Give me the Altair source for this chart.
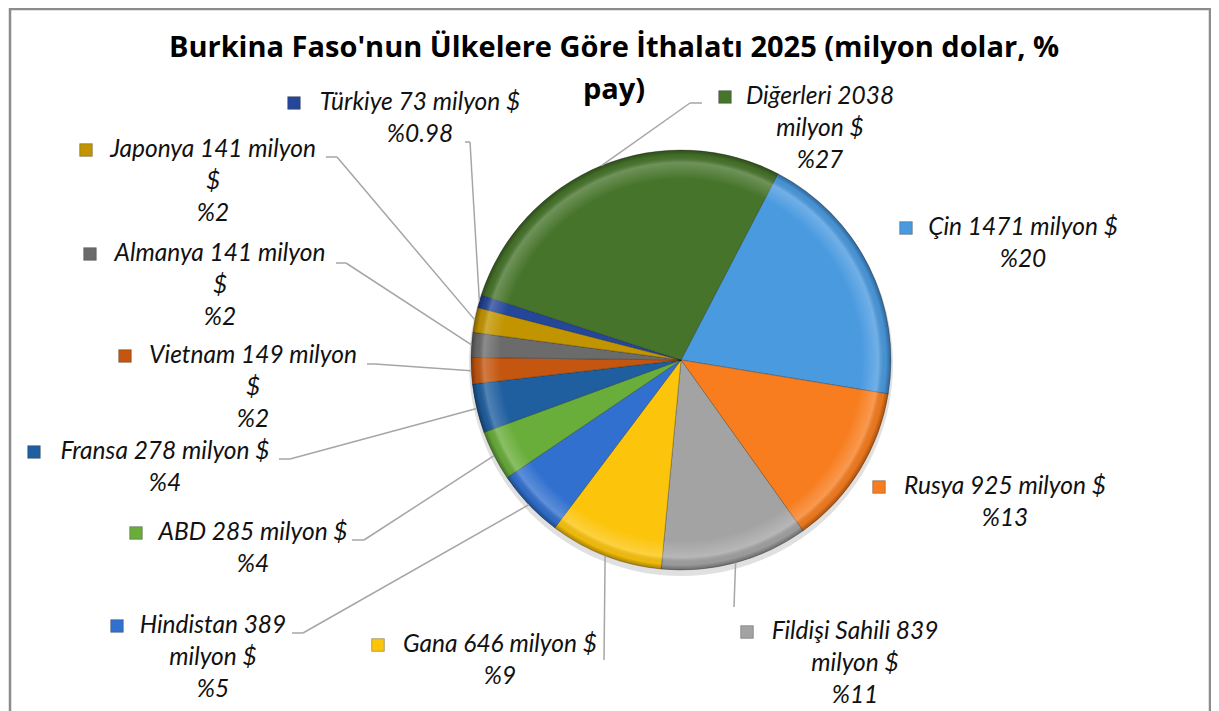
import math
import altair as alt
import pandas as pd

# ---------------- data ----------------
countries = ["Çin", "Rusya", "Fildişi Sahili", "Gana", "Hindistan", "ABD",
             "Fransa", "Vietnam", "Almanya", "Japonya", "Türkiye", "Diğerleri"]
values = [1471, 925, 839, 646, 389, 285, 278, 149, 141, 141, 73, 2038]
label_lines = [
    ["Çin 1471 milyon $", "%20"],
    ["Rusya 925 milyon $", "%13"],
    ["Fildişi Sahili 839", "milyon $", "%11"],
    ["Gana 646 milyon $", "%9"],
    ["Hindistan 389", "milyon $", "%5"],
    ["ABD 285 milyon $", "%4"],
    ["Fransa 278 milyon $", "%4"],
    ["Vietnam 149 milyon", "$", "%2"],
    ["Almanya 141 milyon", "$", "%2"],
    ["Japonya 141 milyon", "$", "%2"],
    ["Türkiye 73 milyon $", "%0.98"],
    ["Diğerleri 2038", "milyon $", "%27"],
]
title_lines = ["Burkina Faso'nun Ülkelere Göre İthalatı 2025 (milyon dolar, %", "pay)"]

# ---------------- styling / layout ----------------
colors = ["#4a9ae0", "#f77d1e", "#a3a3a3", "#fcc40a", "#3170cf", "#69ad3a",
          "#1f5f9f", "#c4560f", "#6b6b6b", "#c29400", "#24479a", "#46742a"]
M = 8                      # page margin
CX, CY, R = 681 - M, 360 - M, 210
A0 = math.radians(27.5)    # angle of first slice
FONT = "Lato"
FS = 24.5
LH = 32
# label layout: text centre x, first line y, legend-key x, leader (x0, x1, y)
layout = {
    "Çin": (1023, 228, 906, None),
    "Rusya": (1005, 487, 879, None),
    "Fildişi Sahili": (855, 632, 747, (734, 734, 607)),
    "Gana": (500, 645, 378, (604, 604, 660)),
    "Hindistan": (213, 626, 117, (292, 303, 633)),
    "ABD": (253, 533, 136, (352, 364, 540)),
    "Fransa": (165, 452, 34, (279, 290, 459)),
    "Vietnam": (253, 356, 125, (367, 375, 364)),
    "Almanya": (220, 254, 90, (336, 346, 263)),
    "Japonya": (213, 150, 86, (326, 337, 157)),
    "Türkiye": (420, 103, 294, (465, 470, 142)),
    "Diğerleri": (820, 97, 725, (702, 690, 103)),
}

pie_df = pd.DataFrame({"country": countries, "value": values, "idx": list(range(len(countries)))})

color_scale = alt.Scale(domain=countries, range=colors)

base = alt.Chart(pie_df)

# frame
frame = alt.Chart(pd.DataFrame({"k": [0]})).mark_rect(
    fill=None, stroke="#8c8c8c", strokeWidth=2.5
).encode(x=alt.value(2), x2=alt.value(1202), y=alt.value(1), y2=alt.value(720))

# shadow
shadow = alt.Chart(pd.DataFrame({"k": [0]})).mark_arc(
    radius=R + 2, theta=0, theta2=2 * math.pi, fill="#000000", opacity=0.12
).encode(x=alt.value(CX), y=alt.value(CY + 4))

pie = base.mark_arc(radius=R, stroke="#000000", strokeOpacity=0.3, strokeWidth=0.8).encode(
    theta=alt.Theta("value:Q", stack=True, scale=alt.Scale(range=[A0, A0 + 2 * math.pi])),
    color=alt.Color("country:N", scale=color_scale, legend=None),
    order=alt.Order("idx:Q", sort="ascending"),
    x=alt.value(CX), y=alt.value(CY),
)

overlay = alt.Chart(pd.DataFrame({"k": [0]})).mark_arc(
    radius=R, theta=0, theta2=2 * math.pi,
    fill={"gradient": "radial", "x1": 0.5, "y1": 0.5, "r1": 0, "x2": 0.5, "y2": 0.5, "r2": 0.5,
          "stops": [{"offset": 0, "color": "rgba(255,255,255,0)"},
                    {"offset": 0.86, "color": "rgba(255,255,255,0)"},
                    {"offset": 0.94, "color": "rgba(255,255,255,0.22)"},
                    {"offset": 0.975, "color": "rgba(0,0,0,0.05)"},
                    {"offset": 1, "color": "rgba(0,0,0,0.35)"}]},
).encode(x=alt.value(CX), y=alt.value(CY))

# leader lines
lead_rows = []
for c, v, i in zip(countries, values, range(len(countries))):
    ld = layout[c][3]
    lead_rows.append({"country": c, "value": v, "idx": i,
                      "has": ld is not None,
                      "lx0": (ld[0] - M) if ld else 0,
                      "lx1": (ld[1] - M) if ld else 0,
                      "ly": (ld[2] - M) if ld else 0})
lead_df = pd.DataFrame(lead_rows)
lead_base = alt.Chart(lead_df).transform_joinaggregate(
    total="sum(value)"
).transform_window(
    cum="sum(value)", sort=[alt.SortField("idx", order="ascending")], frame=[None, 0]
).transform_calculate(
    mid=f"{A0} + 2*PI*(datum.cum - datum.value/2)/datum.total"
).transform_calculate(
    rx=f"{CX} + {R}*sin(datum.mid)", ry=f"{CY} - {R}*cos(datum.mid)"
).transform_filter("datum.has")

seg1 = lead_base.mark_rule(color="#a6a6a6", strokeWidth=1.5).encode(
    x=alt.X("lx0:Q", scale=None), x2="lx1:Q",
    y=alt.Y("ly:Q", scale=None), y2="ly:Q")
seg2 = lead_base.mark_rule(color="#a6a6a6", strokeWidth=1.5).encode(
    x=alt.X("lx1:Q", scale=None), x2="rx:Q",
    y=alt.Y("ly:Q", scale=None), y2="ry:Q")

# label texts
txt_rows = []
key_rows = []
for c, lines in zip(countries, label_lines):
    tx, ty, kx, _ = layout[c]
    for k, s in enumerate(lines):
        txt_rows.append({"country": c, "t": s, "x": tx - M, "y": ty - M + k * LH})
    key_rows.append({"country": c, "x": kx - M, "y": ty - M})
txt = alt.Chart(pd.DataFrame(txt_rows)).mark_text(
    font=FONT, fontSize=FS, fontStyle="italic", color="#111111", align="center", baseline="middle"
).encode(x=alt.X("x:Q", scale=None), y=alt.Y("y:Q", scale=None), text="t:N")

keys = alt.Chart(pd.DataFrame(key_rows)).mark_square(
    size=160, opacity=1, stroke="#333333", strokeWidth=0.6, strokeOpacity=0.6
).encode(x=alt.X("x:Q", scale=None), y=alt.Y("y:Q", scale=None),
         color=alt.Color("country:N", scale=color_scale, legend=None))

title_df = pd.DataFrame({"t": title_lines, "x": [614 - M, 614 - M], "y": [48 - M, 90 - M]})
title = alt.Chart(title_df).mark_text(
    font="Open Sans", fontSize=29, fontWeight="bold", color="#000000", align="center", baseline="middle"
).encode(x=alt.X("x:Q", scale=None), y=alt.Y("y:Q", scale=None), text="t:N")

chart = alt.layer(frame, shadow, pie, overlay, seg1, seg2, keys, txt, title).properties(
    width=1203, height=703, padding=0, autosize=alt.AutoSizeParams(type="none")
).configure_view(stroke=None)

chart.save("out.html", embed_options={"renderer": "svg", "actions": False})
